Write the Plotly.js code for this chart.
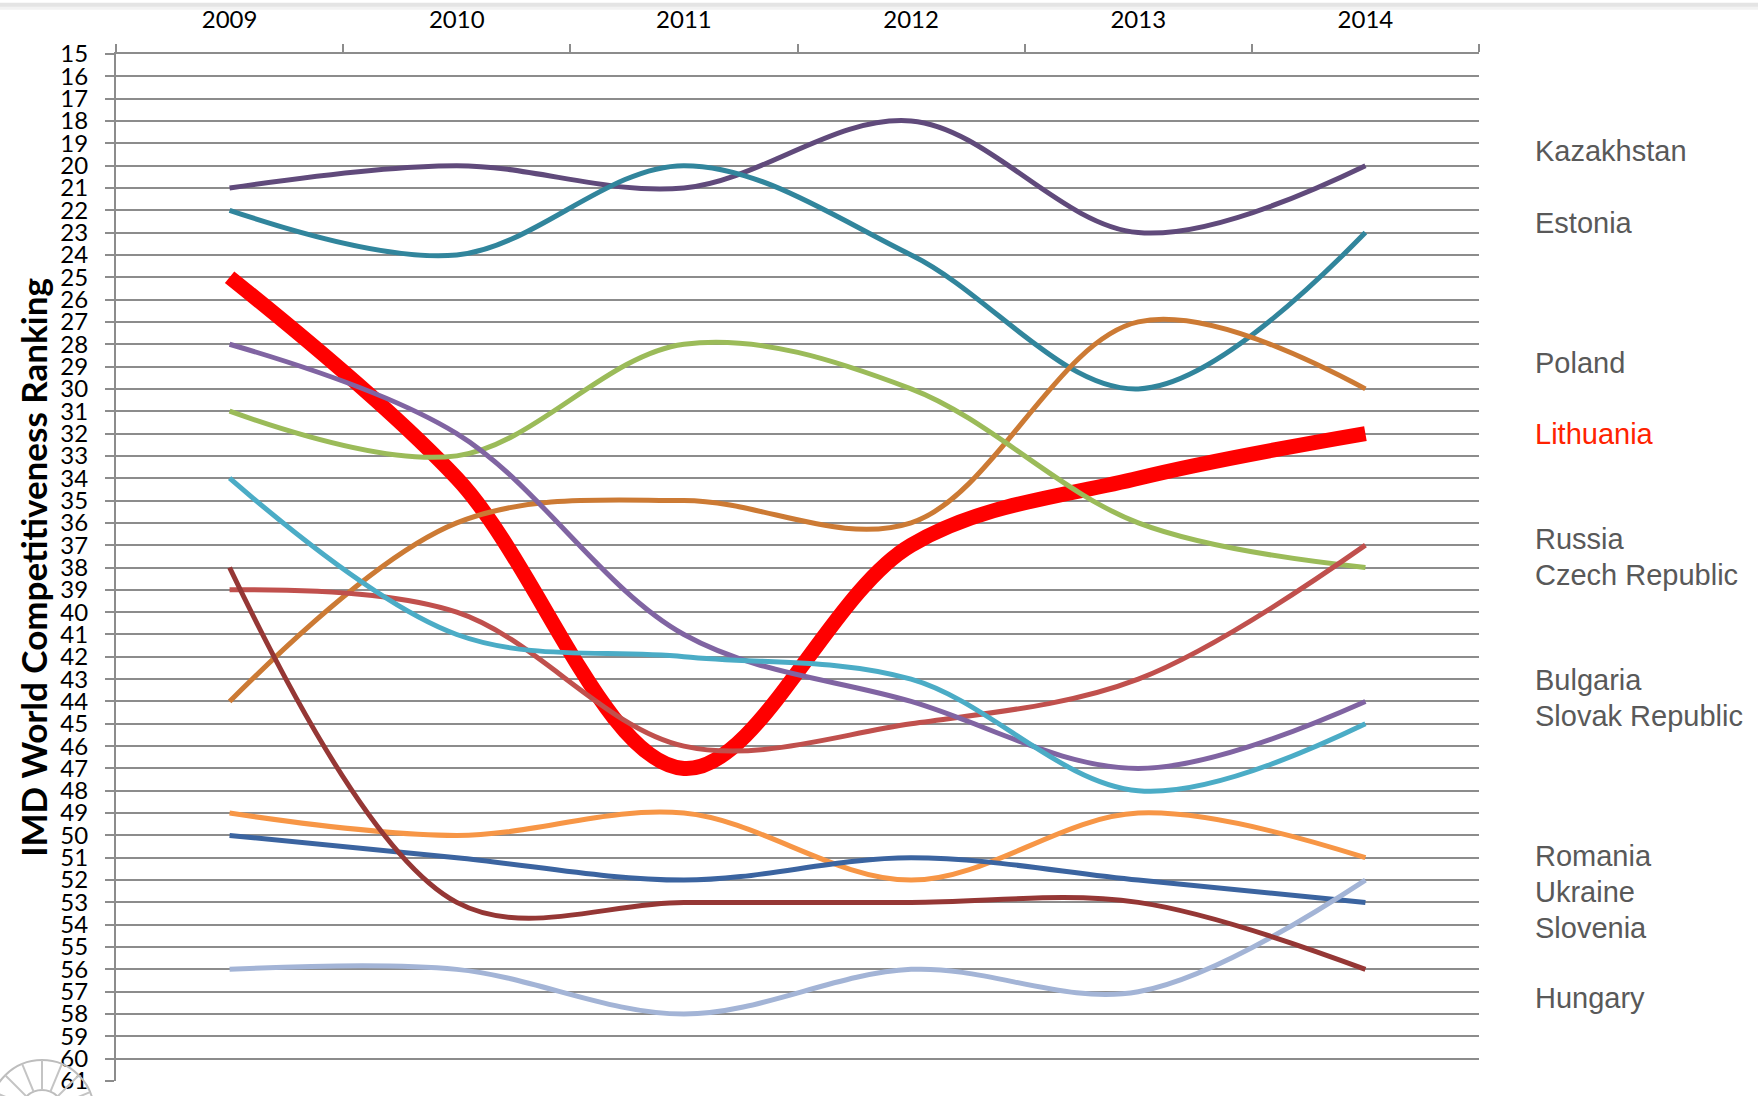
<!DOCTYPE html>
<html>
<head>
<meta charset="utf-8">
<script src="https://cdn.plot.ly/plotly-3.0.1.min.js"></script>
<style>
  html, body { margin: 0; padding: 0; background: #ffffff; }
  #chart { width: 1758px; height: 1096px; }
</style>
</head>
<body>
<div id="chart"></div>
<script>
// ---- data ----
const years = ["2009", "2010", "2011", "2012", "2013", "2014"];

const kazakhstan = [21, 20, 21, 18, 23, 20];
const estonia    = [22, 24, 20, 24, 30, 23];
const lithuania  = [25, 34, 47, 37, 34, 32];
const poland     = [44, 36, 35, 36, 27, 30];
const czech      = [31, 33, 28, 30, 36, 38];
const russia     = [39, 40, 46, 45, 43, 37];
const bulgaria   = [28, 32, 41, 44, 47, 44];
const slovak     = [34, 41, 42, 43, 48, 45];
const romania    = [49, 50, 49, 52, 49, 51];
const ukraine    = [50, 51, 52, 51, 52, 53];
const slovenia   = [56, 56, 58, 56, 57, 52];
const hungary    = [38, 53, 53, 53, 53, 56];

const yTicks = [];
for (let v = 15; v <= 61; v++) yTicks.push(v);

const labelNames = ["Kazakhstan", "Estonia", "Poland", "Lithuania", "Russia", "Czech Republic",
                    "Bulgaria", "Slovak Republic", "Romania", "Ukraine", "Slovenia", "Hungary"];

// ---- styling ----
const labelPos = [19.36, 22.57, 28.85, 32.01, 36.73, 38.34, 43.06, 44.67, 50.94, 52.55, 54.16, 57.27];
const labelColors = labelNames.map(n => n === "Lithuania" ? "#ff2200" : "#595959");

const series = [
  {name: "Kazakhstan", y: kazakhstan, color: "#604a7b", width: 5},
  {name: "Estonia", y: estonia, color: "#31859c", width: 5},
  {name: "Lithuania", y: lithuania, color: "#ff0000", width: 15},
  {name: "Poland", y: poland, color: "#cc7a34", width: 5},
  {name: "Czech Republic", y: czech, color: "#9bbb59", width: 5},
  {name: "Russia", y: russia, color: "#c0504d", width: 5},
  {name: "Bulgaria", y: bulgaria, color: "#8064a2", width: 5},
  {name: "Slovak Republic", y: slovak, color: "#4bacc6", width: 5},
  {name: "Romania", y: romania, color: "#f79646", width: 5},
  {name: "Ukraine", y: ukraine, color: "#3b64a0", width: 5},
  {name: "Slovenia", y: slovenia, color: "#a3b4d6", width: 5},
  {name: "Hungary", y: hungary, color: "#953735", width: 5}
];

const traces = series.map(s => ({
  type: "scatter",
  mode: "lines",
  name: s.name,
  x: years,
  y: s.y,
  line: {color: s.color, width: s.width, shape: "spline", smoothing: 1.0},
  hoverinfo: "x+y+name"
}));

const annotations = labelNames.map((n, i) => ({
  xref: "paper", yref: "y",
  x: 1.0395, y: labelPos[i],
  xanchor: "left", yanchor: "middle",
  text: n, showarrow: false,
  font: {family: "Liberation Sans, Arial, sans-serif", size: 29, color: labelColors[i]}
}));

// decorative partial logo wheel in the lower-left corner (pixel geometry -> paper)
const plotL = 116, plotT = 54, plotW = 1363, plotH = 1027;
const px2x = p => (p - plotL) / plotW;
const py2y = p => (plotT + plotH - p) / plotH;
const logoCx = 42, logoCy = 1112, rOut = 52, rIn = 22;
const logoShapes = [
  {type: "circle", xref: "paper", yref: "paper",
   x0: px2x(logoCx - rOut), x1: px2x(logoCx + rOut), y0: py2y(logoCy + rOut), y1: py2y(logoCy - rOut),
   line: {color: "#bdbdbd", width: 2}},
  {type: "circle", xref: "paper", yref: "paper",
   x0: px2x(logoCx - rIn), x1: px2x(logoCx + rIn), y0: py2y(logoCy + rIn), y1: py2y(logoCy - rIn),
   line: {color: "#bdbdbd", width: 2}}
];
for (let k = 0; k < 16; k++) {
  const a = Math.PI * k / 8;
  logoShapes.push({type: "line", xref: "paper", yref: "paper",
    x0: px2x(logoCx + rIn * Math.cos(a)), y0: py2y(logoCy - rIn * Math.sin(a)),
    x1: px2x(logoCx + rOut * Math.cos(a)), y1: py2y(logoCy - rOut * Math.sin(a)),
    line: {color: "#c4c4c4", width: 2}});
}

const layout = {
  width: 1758,
  height: 1096,
  margin: {l: plotL, r: 1758 - plotL - plotW, t: plotT, b: 1096 - plotT - plotH},
  paper_bgcolor: "#ffffff",
  plot_bgcolor: "#ffffff",
  showlegend: false,
  xaxis: {
    type: "category",
    side: "top",
    range: [-0.5, 5.5],
    tickson: "boundaries",
    ticks: "outside",
    ticklen: 8,
    tickwidth: 2,
    tickcolor: "#8c8c8c",
    showline: true,
    linecolor: "#8c8c8c",
    linewidth: 2,
    showgrid: false,
    zeroline: false,
    ticklabelstandoff: 14,
    tickfont: {family: "Lato, Calibri, sans-serif", size: 24, color: "#000000"}
  },
  yaxis: {
    range: [61, 15],
    tickmode: "array",
    tickvals: yTicks,
    ticktext: yTicks.map(String),
    ticks: "outside",
    ticklen: 9,
    tickwidth: 2,
    tickcolor: "#8c8c8c",
    showline: true,
    linecolor: "#8c8c8c",
    linewidth: 2,
    showgrid: true,
    gridcolor: "#8c8c8c",
    gridwidth: 2,
    zeroline: false,
    ticklabelstandoff: 12,
    tickfont: {family: "Lato, Calibri, sans-serif", size: 24, color: "#000000"},
    title: {
      text: "IMD World Competitiveness Ranking",
      font: {family: "Lato, Calibri, sans-serif", size: 35, color: "#000000", weight: "bold"},
      standoff: 2
    }
  },
  annotations: annotations,
  shapes: [
    {type: "line", xref: "paper", yref: "paper", x0: -0.1, x1: 1.21, y0: 1.0475, y1: 1.0475,
     line: {color: "#e4e4e4", width: 5}},
    {type: "line", xref: "paper", yref: "paper", x0: -0.1, x1: 1.21, y0: 1.0445, y1: 1.0445,
     line: {color: "#f2f2f2", width: 3}}
  ].concat(logoShapes)
};

Plotly.newPlot("chart", traces, layout, {displayModeBar: false, staticPlot: true});
</script>
</body>
</html>
